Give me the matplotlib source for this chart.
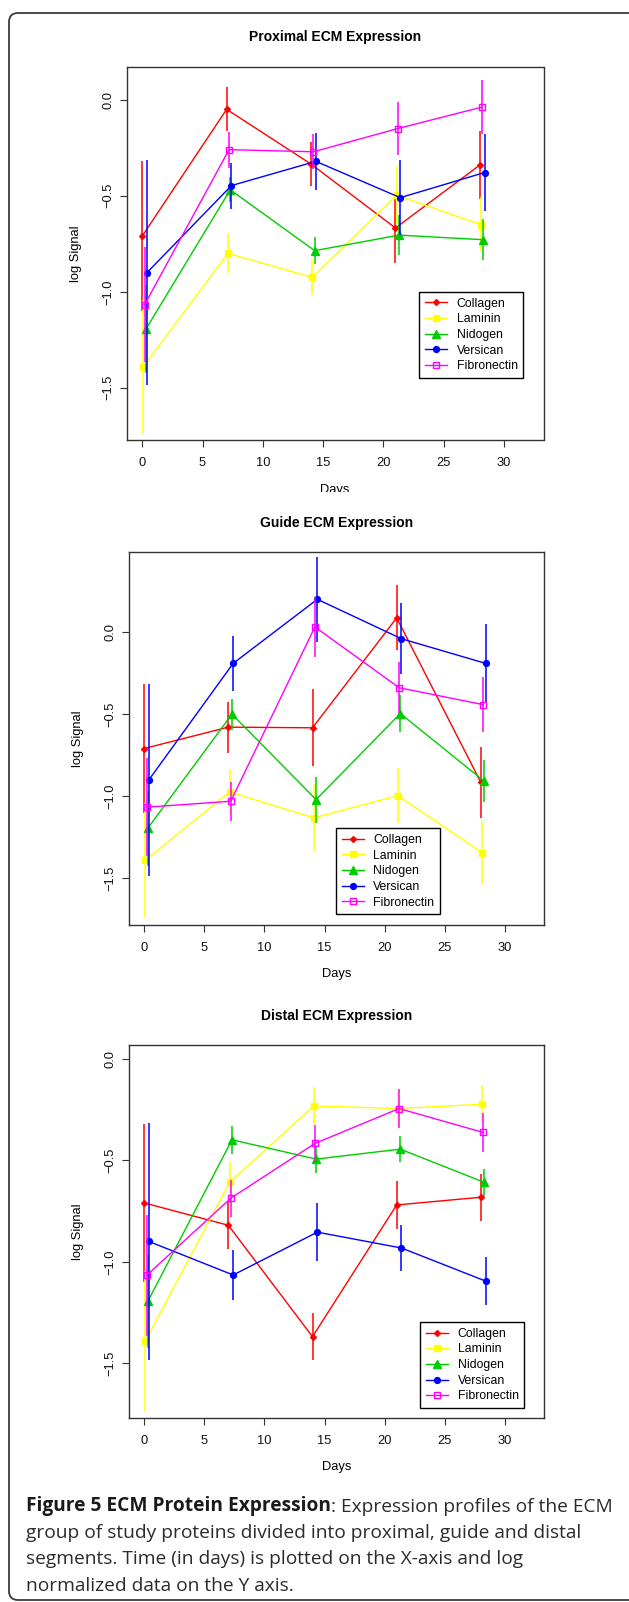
import numpy as np
from matplotlib import pyplot as plt
from matplotlib.patches import FancyBboxPatch
from matplotlib.transforms import Bbox, TransformedBbox

plt.rcParams['font.family'] = 'Liberation Sans'

W, H = 629, 1602

# ---- data -------------------------------------------------------------
days = [0, 7, 14, 21, 28]
proteins = ["Collagen", "Laminin", "Nidogen", "Versican", "Fibronectin"]
day_shift = [0.0, 0.1, 0.3, 0.4, 0.2]

# proximal
prox_collagen = [-0.71, -0.05, -0.335, -0.668, -0.34]
prox_laminin = [-1.39, -0.80, -0.925, -0.497, -0.651]
prox_nidogen = [-1.195, -0.469, -0.786, -0.705, -0.729]
prox_versican = [-0.90, -0.447, -0.321, -0.51, -0.379]
prox_fibronectin = [-1.067, -0.26, -0.271, -0.15, -0.038]
prox_collagen_err = [0.39, 0.115, 0.115, 0.183, 0.176]
prox_laminin_err = [0.346, 0.10, 0.092, 0.152, 0.143]
prox_nidogen_err = [0.229, 0.066, 0.07, 0.106, 0.106]
prox_versican_err = [0.585, 0.12, 0.147, 0.196, 0.198]
prox_fibronectin_err = [0.30, 0.093, 0.09, 0.14, 0.14]

# guide
guide_collagen = [-0.71, -0.58, -0.584, 0.085, -0.916]
guide_laminin = [-1.39, -0.974, -1.132, -0.997, -1.344]
guide_nidogen = [-1.195, -0.501, -1.021, -0.497, -0.91]
guide_versican = [-0.90, -0.192, 0.198, -0.042, -0.192]
guide_fibronectin = [-1.067, -1.031, 0.03, -0.34, -0.443]
guide_collagen_err = [0.39, 0.155, 0.235, 0.197, 0.217]
guide_laminin_err = [0.346, 0.138, 0.204, 0.169, 0.19]
guide_nidogen_err = [0.229, 0.095, 0.14, 0.113, 0.128]
guide_versican_err = [0.585, 0.169, 0.258, 0.215, 0.238]
guide_fibronectin_err = [0.30, 0.118, 0.184, 0.154, 0.169]

# distal
dist_collagen = [-0.71, -0.82, -1.369, -0.72, -0.682]
dist_laminin = [-1.39, -0.609, -0.232, -0.245, -0.224]
dist_nidogen = [-1.195, -0.399, -0.494, -0.445, -0.609]
dist_versican = [-0.90, -1.065, -0.854, -0.932, -1.095]
dist_fibronectin = [-1.067, -0.687, -0.417, -0.245, -0.363]
dist_collagen_err = [0.39, 0.115, 0.116, 0.116, 0.115]
dist_laminin_err = [0.346, 0.10, 0.092, 0.09, 0.097]
dist_nidogen_err = [0.229, 0.068, 0.068, 0.065, 0.066]
dist_versican_err = [0.585, 0.123, 0.144, 0.115, 0.12]
dist_fibronectin_err = [0.30, 0.09, 0.09, 0.094, 0.094]

# R style: pch 18, 15, 17, 19, 0 ; col red, yellow, green3, blue, magenta
colors = ["#FF0000", "#FFFF00", "#00CD00", "#0000FF", "#FF00FF"]
markers = ["D", "s", "^", "o", "s"]
msizes = [3.0, 4.8, 5.6, 4.2, 4.0]
filled = [True, True, True, True, False]


def px_rect(left, top, right, bottom):
    return [left / W, 1 - bottom / H, (right - left) / W, (bottom - top) / H]


def plot_panel(fig, rect, title, values, errors, ylim, legend_xy):
    ax = fig.add_axes(px_rect(*rect))
    w = rect[2] - rect[0]
    h = rect[3] - rect[1]
    for i, name in enumerate(proteins):
        x = np.array(days) + day_shift[i]
        y = np.array(values[i])
        e = np.array(errors[i])
        ax.vlines(x, y - e, y + e, color=colors[i], lw=1.1)
        ax.plot(x, y, color=colors[i], lw=1.0, marker=markers[i],
                ms=msizes[i], mfc=colors[i] if filled[i] else "none",
                mec=colors[i], mew=1.0, label=name)
    ax.set_xlim(-1.28, 33.28)
    ax.set_ylim(ylim[0], ylim[1])
    ax.set_xticks([0, 5, 10, 15, 20, 25, 30])
    ax.set_yticks([0.0, -0.5, -1.0, -1.5])
    ax.set_yticklabels(["0.0", "\u22120.5", "\u22121.0", "\u22121.5"])
    for s in ax.spines.values():
        s.set_color("#333333")
        s.set_linewidth(1.0)
    ax.tick_params(length=5, width=0.8, color="#333333", labelsize=9.3,
                   labelcolor="#111111")
    ax.tick_params(axis="x", pad=7.5)
    ax.tick_params(axis="y", pad=4)
    plt.setp(ax.get_yticklabels(), rotation=90, va="center", ha="right")
    ax.set_title(title, fontweight="bold", fontsize=10, y=1 + 29.5 / h,
                 va="center", pad=0)
    xl = ax.set_xlabel("Days", fontsize=9.3)
    ax.xaxis.set_label_coords(0.5, -49.5 / h)
    xl.set_va("center")
    yl = ax.set_ylabel("log Signal", fontsize=9.3)
    ax.yaxis.set_label_coords(-51 / w, 0.5)
    yl.set_va("center")
    leg = ax.legend(loc="upper left", bbox_to_anchor=legend_xy,
                    borderaxespad=0, fancybox=False, edgecolor="black",
                    framealpha=1, fontsize=8.8, handlelength=1.8,
                    handletextpad=0.8, labelspacing=0.3, borderpad=0.45,
                    numpoints=1)
    leg.get_frame().set_linewidth(1.0)
    return ax, xl


fig = plt.figure(figsize=(W / 100, H / 100), dpi=100)
fig.patch.set_facecolor("white")

# frame + caption live on a pixel-coordinate overlay
bg = fig.add_axes([0, 0, 1, 1], zorder=-1)
bg.set_xlim(0, W)
bg.set_ylim(H, 0)
bg.axis("off")
bg.add_patch(FancyBboxPatch((9, 13), 630, 1587,
                            boxstyle="round,pad=0,rounding_size=9",
                            fc="none", ec="#3a3a3a", lw=1.3))

panel_rects = [(126.8, 66.7, 543.5, 440.0),
               (128.8, 552.3, 544.3, 925.0),
               (128.8, 1045.0, 544.3, 1417.7)]
titles = ["Proximal ECM Expression", "Guide ECM Expression",
          "Distal ECM Expression"]
all_values = [
    [prox_collagen, prox_laminin, prox_nidogen, prox_versican, prox_fibronectin],
    [guide_collagen, guide_laminin, guide_nidogen, guide_versican, guide_fibronectin],
    [dist_collagen, dist_laminin, dist_nidogen, dist_versican, dist_fibronectin],
]
all_errors = [
    [prox_collagen_err, prox_laminin_err, prox_nidogen_err, prox_versican_err, prox_fibronectin_err],
    [guide_collagen_err, guide_laminin_err, guide_nidogen_err, guide_versican_err, guide_fibronectin_err],
    [dist_collagen_err, dist_laminin_err, dist_nidogen_err, dist_versican_err, dist_fibronectin_err],
]
ylims = [(-1.772, 0.172), (-1.784, 0.484), (-1.768, 0.068)]
legend_pos = [(0.702, 0.396), (0.499, 0.259), (0.702, 0.256)]

for k in range(3):
    ax, xl = plot_panel(fig, panel_rects[k], titles[k], all_values[k],
                        all_errors[k], ylims[k], legend_pos[k])
    if k == 0:
        # the first panel image is cropped through its x label
        xl.set_clip_on(True)
        xl.set_clip_box(TransformedBbox(Bbox([[0, 1 - 492 / H], [1, 1]]),
                                        fig.transFigure))

# caption
cap_font = "Open Sans"
cap_size = 13.8
cap_color = "#2b2b2b"
t1 = bg.text(26, 1511.5, "Figure 5 ECM Protein Expression", family=cap_font,
             fontsize=cap_size, fontweight="bold", color="#1a1a1a",
             va="baseline", ha="left")
renderer = fig.canvas.get_renderer()
bb = t1.get_window_extent(renderer)
x_end = bg.transData.inverted().transform((bb.x1, bb.y0))[0]
bg.text(x_end, 1511.5, ": Expression profiles of the ECM", family=cap_font,
        fontsize=cap_size, color=cap_color, va="baseline", ha="left")
cap_lines = ["group of study proteins divided into proximal, guide and distal",
             "segments. Time (in days) is plotted on the X-axis and log",
             "normalized data on the Y axis."]
for j, line in enumerate(cap_lines):
    bg.text(26, 1538 + 26.3 * j, line, family=cap_font, fontsize=cap_size,
            color=cap_color, va="baseline", ha="left")

fig.savefig("out.png", dpi=100, facecolor="white")
